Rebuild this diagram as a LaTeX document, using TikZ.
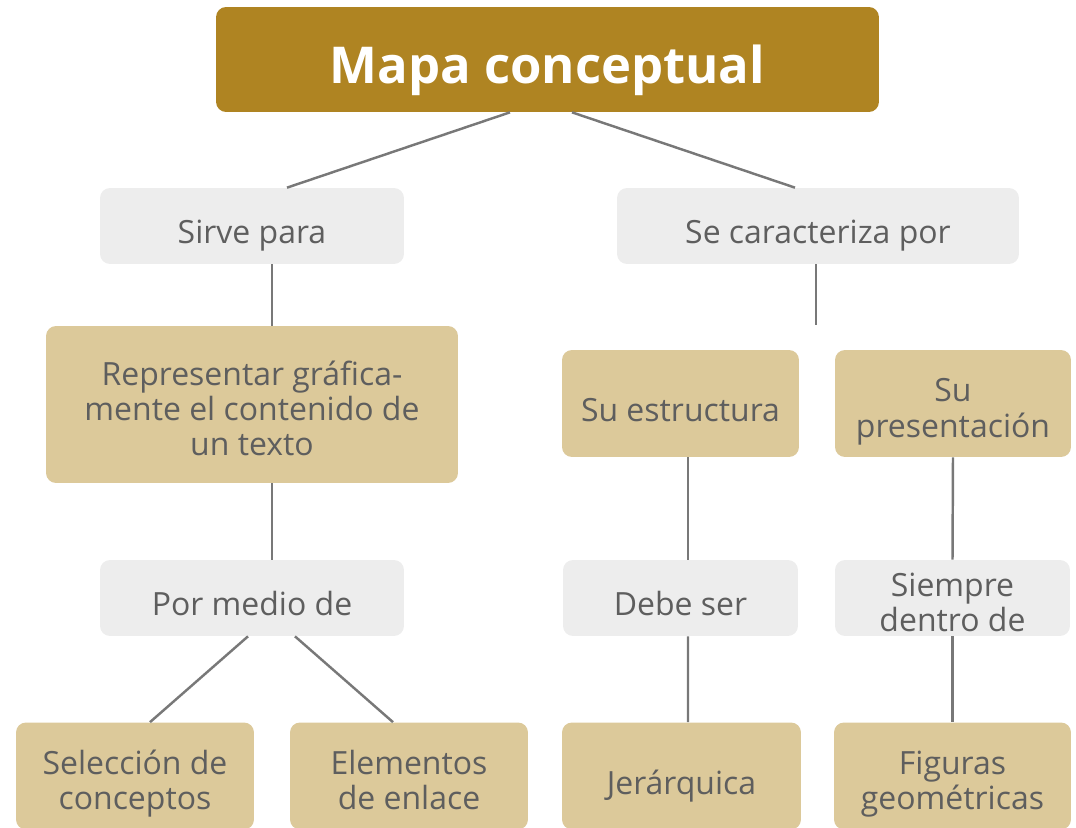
\documentclass[tikz,border=0pt]{standalone}
\usepackage{fontspec}
\setmainfont{Open Sans}
\usepackage{tikz}
\usepackage{xcolor}
\definecolor{oro}{RGB}{175, 132, 34}
\definecolor{arena}{RGB}{220, 201, 154}
\definecolor{nube}{RGB}{237, 237, 237}
\definecolor{tinta}{RGB}{94, 94, 94}
\definecolor{linea}{RGB}{120, 120, 120}
\newcommand{\alza}{\rule{0pt}{0.81cm}}

\begin{document}
\begin{tikzpicture}[x = 0.02cm, y = -0.02cm,
titulo/.style = {fill = oro, rounded corners = 0.2cm, text = white, font = \fontsize{28.9}{34}\selectfont\bfseries, minimum width = 13.26cm, minimum height = 2.1cm, text height = 1.22cm, text depth = 0.26cm},
caja/.style = {rounded corners = 0.2cm, text = tinta, font = \fontsize{18.2}{20.2}\selectfont, align = center,
  execute at begin node = {\rule{0pt}{0.89cm}}, execute at end node = {\rule[-0.17cm]{0pt}{0pt}}},
enlace/.style = {caja, fill = nube, minimum height = 1.52cm},
concepto/.style = {caja, fill = arena, minimum height = 2.14cm},
union/.style = {draw = linea, line width = 1.4pt}]
\useasboundingbox (0,0) rectangle (1076,828);
\clip (0,0) rectangle (1076,828);
\node[titulo] (mapa) at (547.5,59.5) {Mapa conceptual};
\node[enlace, minimum width = 6.08cm] (sirve) at (252,226) {Sirve para};
\node[enlace, minimum width = 8.04cm] (carac) at (818,226) {Se caracteriza por};
\node[concepto, minimum width = 8.24cm, minimum height = 3.14cm] (repre) at (252,404.5) {\alza Representar gr\'afica-\\mente el contenido de\\un texto};
\node[enlace, minimum width = 6.08cm] (medio) at (252,598) {Por medio de};
\node[concepto, minimum width = 4.76cm] (selec) at (135,776) {\alza Selecci\'on de\\conceptos};
\node[concepto, minimum width = 4.76cm] (eleme) at (409,776) {\alza Elementos\\de enlace};
\node[concepto, minimum width = 4.74cm] (estru) at (680.5,403.5) {Su estructura};
\node[concepto, minimum width = 4.72cm] (prese) at (953,403.5) {\alza Su\\presentaci\'on};
\node[enlace, minimum width = 4.7cm] (debe) at (680.5,598) {Debe ser};
\node[enlace, minimum width = 4.7cm, inner ysep = -0.09cm] (siemp) at (952.5,598) {\alza Siempre\\dentro de};
\node[concepto, minimum width = 4.78cm] (jerar) at (681.5,776) {Jer\'arquica};
\node[concepto, minimum width = 4.74cm] (figur) at (952.5,776) {\alza Figuras\\geom\'etricas};
\coordinate (cabo) at (816,325);
% conectores
\draw[union] ([xshift = -0.75cm]mapa.south) -- ([xshift = 0.7cm]sirve.north);
\draw[union] ([xshift = 0.49cm]mapa.south) -- ([xshift = -0.46cm]carac.north);
\draw[union] ([xshift = 0.4cm]sirve.south) -- ([xshift = 0.4cm]repre.north);
\draw[union] (carac.south -| cabo) -- (cabo);
\draw[union] ([xshift = 0.4cm]repre.south) -- ([xshift = 0.4cm]medio.north);
\draw[union] ([xshift = -0.08cm]medio.south) -- ([xshift = 0.3cm]selec.north);
\draw[union] ([xshift = 0.86cm]medio.south) -- ([xshift = -0.32cm]eleme.north);
\draw[union] ([xshift = 0.15cm]estru.south) -- ([xshift = 0.15cm]debe.north);
\draw[union] ([xshift = 0.15cm]debe.south) -- ([xshift = 0.13cm]jerar.north);
\draw[union] (prese.south) -- (siemp.north);
\draw[union] (siemp.south) -- (figur.north);
\end{tikzpicture}
\end{document}
